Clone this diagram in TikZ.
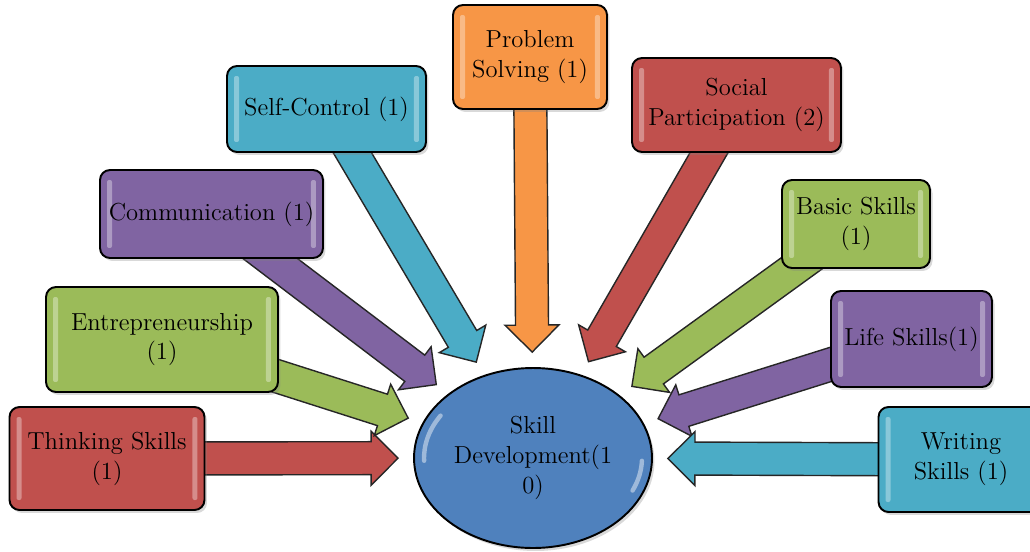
\documentclass[tikz,border=0pt]{standalone}
\usetikzlibrary{calc,shadows,shapes.geometric}
\definecolor{skred}{HTML}{C0504D}
\definecolor{skgreen}{HTML}{9BBB59}
\definecolor{skpurple}{HTML}{8064A2}
\definecolor{skcyan}{HTML}{4BACC6}
\definecolor{skorange}{HTML}{F79646}
\definecolor{skblue}{HTML}{4F81BD}
\pgfdeclarelayer{arrows}
\pgfsetlayers{arrows,main}
\tikzset{
    skillbox/.style={draw=black, line width=1.1pt, rounded corners=0.2cm, fill=#1, align=center, inner sep=0pt,
        font=\fontsize{14}{17}\selectfont,
        drop shadow={opacity=0.3, shadow xshift=0.05cm, shadow yshift=-0.06cm},
        path picture={
            \fill[white, opacity=0.35, rounded corners=0.04cm] ($(path picture bounding box.north west)+(0.14cm,-0.2cm)$) rectangle ($(path picture bounding box.south west)+(0.24cm,0.2cm)$);
            \fill[white, opacity=0.35, rounded corners=0.04cm] ($(path picture bounding box.north east)+(-0.14cm,-0.2cm)$) rectangle ($(path picture bounding box.south east)+(-0.24cm,0.2cm)$);
        }},
    hubellipse/.style={ellipse, draw=black, line width=1.1pt, fill=skblue, align=center, inner sep=0pt,
        font=\fontsize{14}{17}\selectfont, minimum width=4.76cm, minimum height=3.6cm,
        drop shadow={opacity=0.3, shadow xshift=0.05cm, shadow yshift=-0.06cm},
        path picture={
            \draw[white, opacity=0.45, line width=2.5pt, line cap=round] ($(path picture bounding box.center)+(148:2.18cm and 1.6cm)$) arc[start angle=148, end angle=182, x radius=2.18cm, y radius=1.6cm];
            \draw[white, opacity=0.45, line width=2.5pt, line cap=round] ($(path picture bounding box.center)+(-2:2.18cm and 1.6cm)$) arc[start angle=-2, end angle=-24, x radius=2.18cm, y radius=1.6cm];
        }},
    arrowline/.style={draw=black!85, line width=0.8pt, line join=miter}
}
\newcommand{\skillarrow}[2]{%
    \path (#1) -- (ell) coordinate[pos=1] (#1-e);
    \coordinate (#1-t) at ($(#1-e)!0.3cm!(#1.center)$);
    \coordinate (#1-h) at ($(#1-t)!0.54cm!(#1.center)$);
    \filldraw[fill=#2, arrowline] ($(#1.center)!0.33cm!90:(#1-t)$) -- ($(#1-h)!0.33cm!90:(#1-t)$) -- ($(#1-h)!0.54cm!90:(#1-t)$) -- (#1-t)
        -- ($(#1-h)!0.54cm!-90:(#1-t)$) -- ($(#1-h)!0.33cm!-90:(#1-t)$) -- ($(#1.center)!0.33cm!-90:(#1-t)$) -- cycle;
}
\begin{document}
\begin{tikzpicture}[x=0.02cm, y=-0.02cm]
    \useasboundingbox (0,0) rectangle (1030,551);
    \node[skillbox=skred, minimum width=3.9cm, minimum height=2.06cm] (think) at (107,458.5) {Thinking Skills\\(1)};
    \node[skillbox=skgreen, minimum width=4.64cm, minimum height=2.1cm] (entre) at (162,339.5) {Entrepreneurship\\(1)};
    \node[skillbox=skpurple, minimum width=4.46cm, minimum height=1.76cm] (comm) at (211.5,214) {Communication (1)};
    \node[skillbox=skcyan, minimum width=3.98cm, minimum height=1.72cm] (self) at (326.5,109) {Self-Control (1)};
    \node[skillbox=skorange, minimum width=3.08cm, minimum height=2.08cm] (prob) at (530,57) {Problem\\Solving (1)};
    \node[skillbox=skred, minimum width=4.18cm, minimum height=1.88cm] (social) at (736.5,105) {Social\\Participation (2)};
    \node[skillbox=skgreen, minimum width=2.96cm, minimum height=1.76cm] (basic) at (856,224) {Basic Skills\\(1)};
    \node[skillbox=skpurple, minimum width=3.22cm, minimum height=1.92cm] (life) at (911.5,339) {Life Skills(1)};
    \node[skillbox=skcyan, minimum width=3.3cm, minimum height=2.1cm] (writing) at (961,459.5) {Writing\\Skills (1)};
    \node[hubellipse] (ell) at (533,458) {Skill\\Development(1\\0)};
    \begin{pgfonlayer}{arrows}
        \skillarrow{think}{skred}
        \skillarrow{entre}{skgreen}
        \skillarrow{comm}{skpurple}
        \skillarrow{self}{skcyan}
        \skillarrow{prob}{skorange}
        \skillarrow{social}{skred}
        \skillarrow{basic}{skgreen}
        \skillarrow{life}{skpurple}
        \skillarrow{writing}{skcyan}
    \end{pgfonlayer}
\end{tikzpicture}
\end{document}
